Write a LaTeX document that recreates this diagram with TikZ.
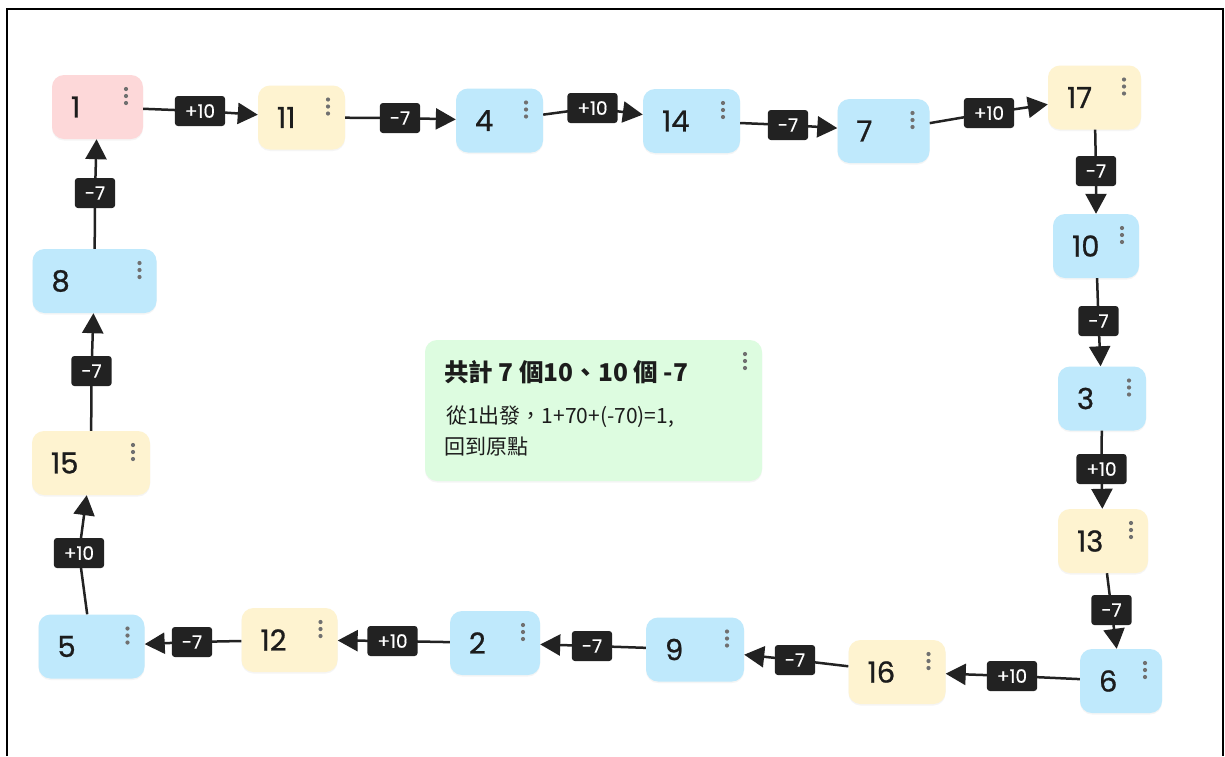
\documentclass[tikz,border=0pt]{standalone}
\usepackage{fontspec}
\usetikzlibrary{arrows.meta,shadows}
\newfontfamily\numfont[FakeBold=0.8]{Poppins}
\newfontfamily\labfont[FakeBold=0.5]{Poppins}
\newfontfamily\cjkfont{Noto Sans CJK TC}
\definecolor{pinkbox}{HTML}{FDD8D9}
\definecolor{yellowbox}{HTML}{FEF3D0}
\definecolor{bluebox}{HTML}{BFE9FC}
\definecolor{greenbox}{HTML}{DDFCE0}
\definecolor{labcol}{HTML}{222222}
\definecolor{textcol}{HTML}{1C1C1C}
\definecolor{dotcol}{HTML}{707070}
\tikzset{
  box/.style={rounded corners=12pt, minimum height=64pt, inner xsep=19pt, inner ysep=0pt,
    align=left, text=textcol, font=\numfont\fontsize{29pt}{32pt}\selectfont,
    drop shadow={opacity=0.08, shadow xshift=0pt, shadow yshift=-1.5pt},
    path picture={\foreach \k in {0,1,2}{\fill[dotcol] ([xshift=-17pt,yshift=-14pt-\k*7pt]path picture bounding box.north east) circle (2.1pt);}}},
  pinkb/.style={box, fill=pinkbox},
  yellowb/.style={box, fill=yellowbox},
  blueb/.style={box, fill=bluebox},
  lab/.style={fill=labcol, text=white, rounded corners=3pt, minimum height=30pt, inner xsep=10pt, inner ysep=0pt,
    font=\labfont\fontsize{18.5pt}{20pt}\selectfont},
  edge/.style={line width=2.5pt, draw=labcol, -{Triangle[length=20pt,width=21pt]}},
  notetext/.style={anchor=base west, inner sep=0pt, text=textcol}
}
\begin{document}
\begin{tikzpicture}[x=1pt,y=-1pt]
\useasboundingbox (0,0) rectangle (1225,756);
\fill[white] (0,0) rectangle (1225,756);
\draw[line width=2pt, black] (7,756) -- (7,9) -- (1223,9) -- (1223,756);

% nodes
\node[pinkb, text width=53pt] (n1) at (97.5,107) {1};
\node[yellowb, text width=49pt] (n11) at (301.5,117.5) {11};
\node[blueb, text width=49pt] (n4) at (499.5,120.5) {4};
\node[blueb, text width=59pt] (n14) at (691.5,121) {14};
\node[blueb, text width=54pt] (n7) at (883.5,131) {7};
\node[yellowb, text width=55pt] (n17) at (1094.5,97.5) {17};
\node[blueb, text width=48pt] (n10) at (1096,246) {10};
\node[blueb, text width=50pt] (n3) at (1102,398.5) {3};
\node[yellowb, text width=52pt] (n13) at (1103,541) {13};
\node[blueb, text width=44pt] (n6) at (1121,681) {6};
\node[yellowb, text width=59pt] (n16) at (897,672) {16};
\node[blueb, text width=60pt] (n9) at (695,649.5) {9};
\node[blueb, text width=52pt] (n2) at (495,643) {2};
\node[yellowb, text width=58pt] (n12) at (289.5,640) {12};
\node[blueb, text width=68pt] (n5) at (91.5,646.5) {5};
\node[yellowb, text width=80pt] (n15) at (91,463) {15};
\node[blueb, text width=86pt] (n8) at (94.5,281) {8};

% note box
\node[box, fill=greenbox, minimum width=337pt, minimum height=141pt, inner sep=0pt] (note) at (593.5,410.5) {};
\node[notetext, font=\cjkfont\bfseries\fontsize{24.5pt}{28pt}\selectfont] (t1) at (444,381) {共計 7 個10、10 個 -7};
\node[notetext, font=\cjkfont\fontsize{21pt}{25pt}\selectfont] (t2) at (446,423) {從1出發，1+70+(-70)=1,};
\node[notetext, font=\cjkfont\fontsize{21pt}{25pt}\selectfont] (t3) at (444,454) {回到原點};

% label positions
\coordinate (c1) at (200,111);
\coordinate (c2) at (400,118);
\coordinate (c3) at (592.5,108);
\coordinate (c4) at (788,125);
\coordinate (c5) at (989,113);
\coordinate (c6) at (1096,171);
\coordinate (c7) at (1098.5,321);
\coordinate (c8) at (1101.5,469);
\coordinate (c9) at (1111.5,610);
\coordinate (c10) at (1012,676);
\coordinate (c11) at (795,660);
\coordinate (c12) at (592,646);
\coordinate (c13) at (392.5,641);
\coordinate (c14) at (192,642);
\coordinate (c15) at (79,553);
\coordinate (c16) at (91.5,371);
\coordinate (c17) at (95,193);

% edges
\draw[edge] (n1) -- (c1) -- (n11);
\draw[edge] (n11) -- (c2) -- (n4);
\draw[edge] (n4) -- (c3) -- (n14);
\draw[edge] (n14) -- (c4) -- (n7);
\draw[edge] (n7) -- (c5) -- (n17);
\draw[edge] (n17) -- (c6) -- (n10);
\draw[edge] (n10) -- (c7) -- (n3);
\draw[edge] (n3) -- (c8) -- (n13);
\draw[edge] (n13) -- (c9) -- (n6);
\draw[edge] (n6) -- (c10) -- (n16);
\draw[edge] (n16) -- (c11) -- (n9);
\draw[edge] (n9) -- (c12) -- (n2);
\draw[edge] (n2) -- (c13) -- (n12);
\draw[edge] (n12) -- (c14) -- (n5);
\draw[edge] (n5) -- (c15) -- (n15);
\draw[edge] (n15) -- (c16) -- (n8);
\draw[edge] (n8) -- (c17) -- (n1);

% labels
\node[lab] (l1) at (c1) {+10};
\node[lab] (l2) at (c2) {-7};
\node[lab] (l3) at (c3) {+10};
\node[lab] (l4) at (c4) {-7};
\node[lab] (l5) at (c5) {+10};
\node[lab] (l6) at (c6) {-7};
\node[lab] (l7) at (c7) {-7};
\node[lab] (l8) at (c8) {+10};
\node[lab] (l9) at (c9) {-7};
\node[lab] (l10) at (c10) {+10};
\node[lab] (l11) at (c11) {-7};
\node[lab] (l12) at (c12) {-7};
\node[lab] (l13) at (c13) {+10};
\node[lab] (l14) at (c14) {-7};
\node[lab] (l15) at (c15) {+10};
\node[lab] (l16) at (c16) {-7};
\node[lab] (l17) at (c17) {-7};
\end{tikzpicture}
\end{document}
